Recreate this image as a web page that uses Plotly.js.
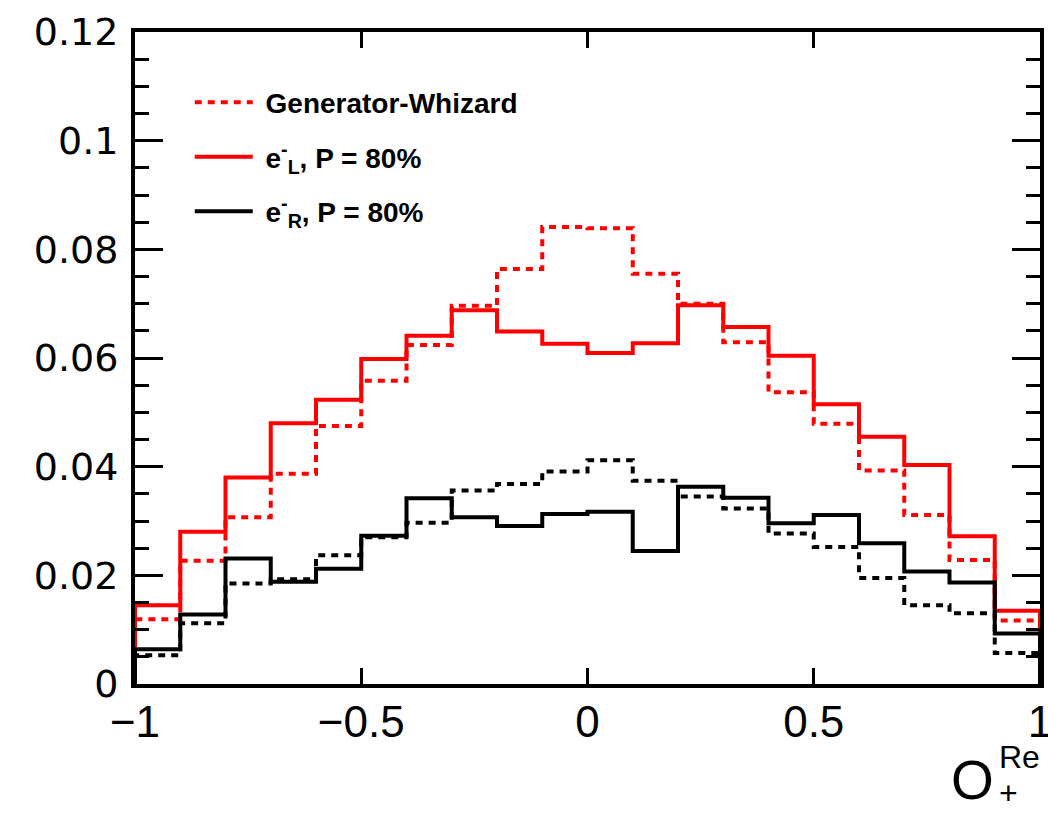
<!DOCTYPE html>
<html>
<head>
<meta charset="utf-8">
<script src="https://cdn.plot.ly/plotly-3.0.1.min.js"></script>
<style>
  html, body { margin: 0; padding: 0; background: #ffffff; }
  #chart { width: 1048px; height: 813px; }
</style>
</head>
<body>
<div id="chart"></div>
<script>
// Bin edges of the histograms (20 bins, width 0.1)
const binEdges = [-1.0, -0.9, -0.8, -0.7, -0.6, -0.5, -0.4, -0.3, -0.2, -0.1, 0.0,
                  0.1, 0.2, 0.3, 0.4, 0.5, 0.6, 0.7, 0.8, 0.9, 1.0];

// Generator-Whizard, e-_L (red dotted)
const genL = [0.0119, 0.0227, 0.0307, 0.0387, 0.0475, 0.0558, 0.0624, 0.0696, 0.0764, 0.0841,
              0.0839, 0.0755, 0.0700, 0.0629, 0.0537, 0.0479, 0.0393, 0.0311, 0.0228, 0.0117];
// e-_L, P = 80% (red solid)
const recoL = [0.0145, 0.0280, 0.0380, 0.0480, 0.0523, 0.0598, 0.0641, 0.0688, 0.0649, 0.0626,
               0.0609, 0.0627, 0.0697, 0.0657, 0.0604, 0.0515, 0.0455, 0.0403, 0.0272, 0.0135];
// Generator-Whizard, e-_R (black dotted)
const genR = [0.0053, 0.0112, 0.0185, 0.0193, 0.0237, 0.0270, 0.0297, 0.0356, 0.0368, 0.0391,
              0.0412, 0.0374, 0.0345, 0.0323, 0.0277, 0.0252, 0.0195, 0.0145, 0.0130, 0.0057];
// e-_R, P = 80% (black solid)
const recoR = [0.0064, 0.0128, 0.0231, 0.0188, 0.0212, 0.0273, 0.0342, 0.0307, 0.0291, 0.0313,
               0.0317, 0.0245, 0.0363, 0.0343, 0.0296, 0.0311, 0.0259, 0.0207, 0.0187, 0.0093];

const seriesNames = ['Generator-Whizard', 'e<sup>-</sup><sub>L</sub>, P = 80%', 'e<sup>-</sup><sub>R</sub>, P = 80%'];
const xTickVals = [-1, -0.5, 0, 0.5, 1];
const xTickText = ['\u22121', '\u22120.5', '0', '0.5', '1'];

// histogram outline: start and end at zero like ROOT
function stepX() {
  return [binEdges[0]].concat(binEdges.slice(0, binEdges.length - 1)).concat([binEdges[binEdges.length - 1]]);
}
function stepY(vals) {
  return [0].concat(vals).concat([0]);
}

const gap = '\u00A0';
const dotted = '7px,6px';
const traces = [
  {x: stepX(), y: stepY(genL), type: 'scatter', mode: 'lines', line: {shape: 'hv', color: '#ff0000', width: 4, dash: dotted},
   name: gap + seriesNames[0], legendgroup: 'a', legendrank: 1},
  {x: stepX(), y: stepY(recoL), type: 'scatter', mode: 'lines', line: {shape: 'hv', color: '#ff0000', width: 4},
   name: gap + seriesNames[1], legendgroup: 'b', legendrank: 2},
  {x: stepX(), y: stepY(genR), type: 'scatter', mode: 'lines', line: {shape: 'hv', color: '#000000', width: 4, dash: dotted},
   name: 'Generator-Whizard (e<sub>R</sub>)', showlegend: false},
  {x: stepX(), y: stepY(recoR), type: 'scatter', mode: 'lines', line: {shape: 'hv', color: '#000000', width: 4},
   name: gap + seriesNames[2], legendgroup: 'c', legendrank: 3}
];

const tickFontY = {family: 'DejaVu Sans, sans-serif', size: 38, color: '#000'};
const tickFontX = {family: 'Liberation Sans, Arial, sans-serif', size: 44, color: '#000'};
const titleFam = 'Liberation Sans, Arial, sans-serif';

const layout = {
  width: 1048, height: 813,
  margin: {l: 135, r: 8, t: 32, b: 129, pad: 0},
  paper_bgcolor: '#ffffff', plot_bgcolor: '#ffffff',
  showlegend: true,
  legend: {
    x: 0.0605, y: 0.93, xanchor: 'left', yanchor: 'top',
    bgcolor: 'rgba(0,0,0,0)', borderwidth: 0,
    font: {family: 'Liberation Sans, Arial, sans-serif', size: 28, color: '#000', weight: 'bold'},
    traceorder: 'grouped', tracegroupgap: 15, itemwidth: 58
  },
  xaxis: {
    range: [-1, 1], showgrid: false, zeroline: false,
    showline: true, linecolor: '#000', linewidth: 4, mirror: 'allticks',
    ticks: 'inside', ticklen: 16, tickwidth: 3, tickcolor: '#000',
    tickvals: xTickVals, ticktext: xTickText, tickfont: tickFontX,
    ticklabelstandoff: -4, ticklabeloverflow: 'allow'
  },
  yaxis: {
    range: [0, 0.12], showgrid: false, zeroline: false,
    showline: true, linecolor: '#000', linewidth: 4, mirror: 'allticks',
    ticks: 'inside', ticklen: 28, tickwidth: 3, tickcolor: '#000',
    dtick: 0.02, tick0: 0, tickfont: tickFontY,
    minor: {dtick: 0.005, ticks: 'inside', ticklen: 14, tickwidth: 3, tickcolor: '#000', showgrid: false},
    ticklabelstandoff: 5
  },
  annotations: [
    {xref: 'paper', yref: 'paper', x: (972 - 135) / 905, y: (684 - 780) / 652, text: 'O', showarrow: false,
     xanchor: 'center', yanchor: 'middle', font: {family: titleFam, size: 55, color: '#000'}},
    {xref: 'paper', yref: 'paper', x: (1019 - 135) / 905, y: (684 - 757) / 652, text: 'Re', showarrow: false,
     xanchor: 'center', yanchor: 'middle', font: {family: titleFam, size: 32, color: '#000'}},
    {xref: 'paper', yref: 'paper', x: (1008 - 135) / 905, y: (684 - 793) / 652, text: '+', showarrow: false,
     xanchor: 'center', yanchor: 'middle', font: {family: titleFam, size: 32, color: '#000'}}
  ]
};

Plotly.newPlot('chart', traces, layout, {displayModeBar: false, staticPlot: true});
</script>
</body>
</html>
